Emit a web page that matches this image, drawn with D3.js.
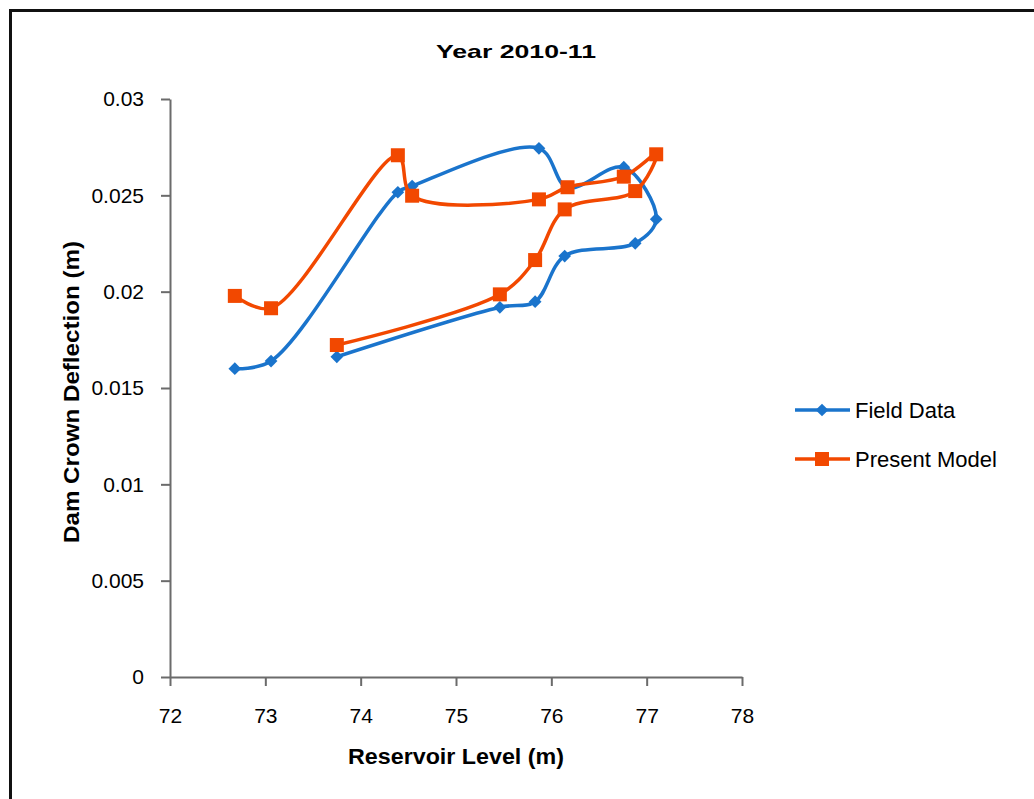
<!DOCTYPE html>
<html>
<head>
<meta charset="utf-8">
<script src="https://cdn.jsdelivr.net/npm/d3@7"></script>
<style>
  body { margin: 0; background: #fff; }
  svg { display: block; }
</style>
</head>
<body>
<svg id="chart" width="1034" height="799"></svg>
<script>
// reservoir level (m), same order for both series
var levels = [72.68, 73.06, 74.39, 74.54, 75.87, 76.17, 76.76, 77.1, 76.88, 76.14, 75.83, 75.46, 73.75];
var fieldData = [0.0160, 0.0164, 0.02516, 0.02548, 0.02744, 0.0254, 0.02646, 0.02376, 0.02251, 0.02185, 0.01948, 0.01919, 0.01662];
var presentModel = [0.01978, 0.01914, 0.02708, 0.02498, 0.02479, 0.02542, 0.02597, 0.02713, 0.02522, 0.02427, 0.02164, 0.01986, 0.01723];
var xTicks = [72, 73, 74, 75, 76, 77, 78];
var yTicks = [0, 0.005, 0.01, 0.015, 0.02, 0.025, 0.03];
var seriesNames = ["Field Data", "Present Model"];

var svg = d3.select('#chart');
var plotL = 170, plotR = 742, plotT = 99, plotB = 677;
var font = 'Liberation Sans, Arial, sans-serif';

var x = d3.scaleLinear().domain([72, 78]).range([plotL, plotR]);
var y = d3.scaleLinear().domain([0, 0.03]).range([plotB, plotT]);

// outer frame (only top and left edges show)
svg.append('path')
  .attr('d', 'M10.5 799 L10.5 10.5 L1034 10.5')
  .attr('fill', 'none')
  .attr('stroke', '#111')
  .attr('stroke-width', 3);

svg.append('text')
  .attr('x', 516).attr('y', 58)
  .attr('text-anchor', 'middle')
  .attr('font-family', font)
  .attr('font-weight', 'bold')
  .attr('font-size', '19px')
  .attr('textLength', 160)
  .attr('lengthAdjust', 'spacingAndGlyphs')
  .attr('fill', '#000')
  .text('Year 2010-11');

var xAxis = svg.append('g')
  .attr('transform', 'translate(0,' + plotB + ')')
  .call(d3.axisBottom(x).tickValues(xTicks).tickSize(9).tickSizeOuter(0).tickPadding(22).tickFormat(d3.format('d')));
var yAxis = svg.append('g')
  .attr('transform', 'translate(' + plotL + ',0)')
  .call(d3.axisLeft(y).tickValues(yTicks).tickSize(9).tickSizeOuter(0).tickPadding(17).tickFormat(function(d){ return d === 0 ? '0' : String(+d.toFixed(3)); }));

[xAxis, yAxis].forEach(function(a){
  a.select('.domain').attr('stroke', '#6b6b6b').attr('stroke-width', 2);
  a.selectAll('.tick line').attr('stroke', '#6b6b6b').attr('stroke-width', 2);
  a.selectAll('.tick text')
    .attr('font-family', font)
    .attr('font-size', '21px')
    .attr('fill', '#000');
});

svg.append('text')
  .attr('x', 456).attr('y', 764)
  .attr('text-anchor', 'middle')
  .attr('font-family', font)
  .attr('font-weight', 'bold')
  .attr('font-size', '22px')
  .attr('textLength', 216)
  .attr('lengthAdjust', 'spacingAndGlyphs')
  .text('Reservoir Level  (m)');

svg.append('text')
  .attr('transform', 'translate(79,392) rotate(-90)')
  .attr('text-anchor', 'middle')
  .attr('font-family', font)
  .attr('font-weight', 'bold')
  .attr('font-size', '22px')
  .attr('textLength', 302)
  .attr('lengthAdjust', 'spacingAndGlyphs')
  .text('Dam Crown Deflection (m)');

var series = [
  { name: seriesNames[0], values: fieldData, color: '#1a74cc', marker: 'diamond' },
  { name: seriesNames[1], values: presentModel, color: '#f24800', marker: 'square' }
];

var line = d3.line()
  .x(function(d){ return x(d[0]); })
  .y(function(d){ return y(d[1]); })
  .curve(d3.curveCatmullRom.alpha(0.5));

function addMarker(g, type, cx, cy, color) {
  if (type === 'square') {
    g.append('rect')
      .attr('x', cx - 7).attr('y', cy - 7)
      .attr('width', 14).attr('height', 14)
      .attr('fill', color);
  } else {
    g.append('rect')
      .attr('x', -4.5).attr('y', -4.5)
      .attr('width', 9).attr('height', 9)
      .attr('transform', 'translate(' + cx + ',' + cy + ') rotate(45)')
      .attr('fill', color);
  }
}

series.forEach(function(s){
  var pts = levels.map(function(l, i){ return [l, s.values[i]]; });
  svg.append('path')
    .datum(pts)
    .attr('d', line)
    .attr('fill', 'none')
    .attr('stroke', s.color)
    .attr('stroke-width', 3.5);
  var g = svg.append('g');
  pts.forEach(function(p){
    addMarker(g, s.marker, x(p[0]), y(p[1]), s.color);
  });
});

// legend
var lg = svg.append('g');
series.forEach(function(s, i){
  var ly = 410 + i * 49;
  lg.append('line')
    .attr('x1', 795).attr('x2', 850)
    .attr('y1', ly).attr('y2', ly)
    .attr('stroke', s.color).attr('stroke-width', 3.5);
  addMarker(lg, s.marker, 822, ly, s.color);
  lg.append('text')
    .attr('x', 855).attr('y', ly + 8)
    .attr('font-family', font)
    .attr('font-size', '22px')
    .text(s.name);
});
</script>
</body>
</html>
